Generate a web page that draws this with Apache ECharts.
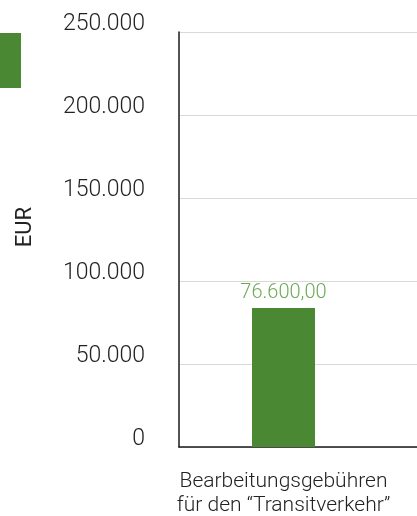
<!DOCTYPE html>
<html><head><meta charset="utf-8">
<script src="https://cdn.jsdelivr.net/npm/echarts@6/dist/echarts.min.js"></script>
<style>html,body{margin:0;padding:0;background:#fff}#c{width:417px;height:516px}</style>
</head><body><div id="c"></div>
<script>
const categories = ['Bearbeitungsgebühren\nfür den “Transitverkehr”', ''];
const values = [83700, '-'];
const barLabels = ['76.600,00', ''];
const yTicks = [0, 50000, 100000, 150000, 200000, 250000];
const yName = 'EUR';

const chart = echarts.init(document.getElementById('c'));
const fmt = v => String(v).replace(/\B(?=(\d{3})+(?!\d))/g, '.');
chart.setOption({
  animation: false,
  textStyle: {fontFamily: 'Roboto'},
  grid: {left: 179, width: 418, top: 32, bottom: 69, containLabel: false, outerBoundsMode: 'none'},
  graphic: [{type: 'rect', shape: {x: 0, y: 33, width: 21, height: 55}, style: {fill: '#4a8834'}}],
  xAxis: {
    type: 'category', data: categories,
    axisLine: {lineStyle: {color: '#1a1a1a', width: 1.5}},
    axisTick: {show: false},
    axisLabel: {color: '#222', fontSize: 21, fontWeight: 300, lineHeight: 24, margin: 23, interval: 0}
  },
  yAxis: {
    type: 'value', min: yTicks[0], max: yTicks[yTicks.length - 1], interval: 50000,
    name: yName, nameLocation: 'middle', nameGap: 143,
    nameTextStyle: {color: '#222', fontSize: 22, fontFamily: 'Roboto', padding: [0, 0, 0, 25]},
    axisLine: {show: true, lineStyle: {color: '#1a1a1a', width: 1.5}},
    axisTick: {show: false},
    splitLine: {lineStyle: {color: '#d9d9d9', width: 1}},
    axisLabel: {color: '#222', fontSize: 23, fontWeight: 300, margin: 34, verticalAlign: 'bottom', lineHeight: 16, formatter: fmt}
  },
  series: [{
    type: 'bar', data: values, barWidth: 63,
    itemStyle: {color: '#4a8834'},
    label: {show: true, position: 'top', distance: 5, color: '#6aaa55', fontSize: 20, fontWeight: 300,
      formatter: p => barLabels[p.dataIndex]}
  }]
});
</script></body></html>
